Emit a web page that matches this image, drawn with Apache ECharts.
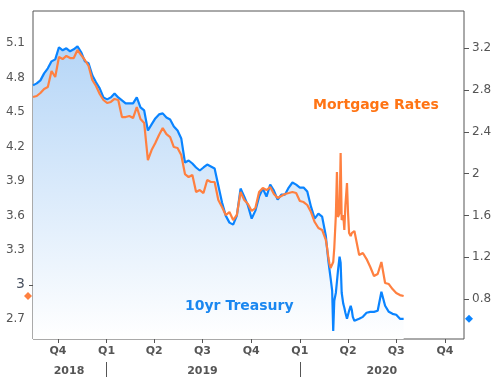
<!DOCTYPE html>
<html>
<head>
<meta charset="utf-8">
<script src="https://cdn.jsdelivr.net/npm/echarts@6/dist/echarts.min.js"></script>
<style>
  html, body { margin: 0; padding: 0; background: #fff; }
  #chart { width: 498px; height: 377px; }
</style>
</head>
<body>
<div id="chart"></div>
<script>
// weekly dates, denser around the March 2020 spike
var dates = [
  '2018-08-15','2018-08-22','2018-08-29','2018-09-05','2018-09-12','2018-09-19','2018-09-26','2018-10-03','2018-10-10','2018-10-17',
  '2018-10-24','2018-10-31','2018-11-07','2018-11-14','2018-11-21','2018-11-28','2018-12-05','2018-12-12','2018-12-19','2018-12-26',
  '2019-01-02','2019-01-09','2019-01-16','2019-01-23','2019-01-30','2019-02-06','2019-02-13','2019-02-20','2019-02-27','2019-03-06',
  '2019-03-13','2019-03-20','2019-03-27','2019-04-03','2019-04-10','2019-04-17','2019-04-24','2019-05-01','2019-05-08','2019-05-15',
  '2019-05-22','2019-05-29','2019-06-05','2019-06-12','2019-06-19','2019-06-26','2019-07-03','2019-07-10','2019-07-17','2019-07-24',
  '2019-07-31','2019-08-07','2019-08-14','2019-08-21','2019-08-28','2019-09-04','2019-09-11','2019-09-18','2019-09-25','2019-10-02',
  '2019-10-09','2019-10-16','2019-10-23','2019-10-30','2019-11-06','2019-11-13','2019-11-20','2019-11-27','2019-12-04','2019-12-11',
  '2019-12-18','2019-12-25','2020-01-01','2020-01-08','2020-01-15','2020-01-22','2020-01-29','2020-02-05','2020-02-12',
  '2020-02-19','2020-02-21','2020-02-24','2020-02-26','2020-02-28','2020-03-02','2020-03-04','2020-03-06','2020-03-09','2020-03-11',
  '2020-03-13','2020-03-16','2020-03-18','2020-03-20','2020-03-23','2020-03-25','2020-03-27','2020-03-30','2020-04-01','2020-04-03',
  '2020-04-06','2020-04-08','2020-04-10','2020-04-13','2020-04-15',
  '2020-04-22','2020-04-29','2020-05-06','2020-05-13','2020-05-20','2020-05-27','2020-06-03','2020-06-10','2020-06-17','2020-06-24',
  '2020-07-01','2020-07-08','2020-07-15'
];

var mortgageRates = [
  4.633, 4.642, 4.668, 4.703, 4.720, 4.859, 4.807, 4.981, 4.963, 4.990,
  4.972, 4.972, 5.042, 4.998, 4.955, 4.903, 4.781, 4.729, 4.659, 4.607,
  4.581, 4.590, 4.616, 4.607, 4.459, 4.459, 4.468, 4.450, 4.546, 4.442,
  4.407, 4.085, 4.172, 4.233, 4.303, 4.363, 4.311, 4.285, 4.198, 4.190,
  4.129, 3.963, 3.937, 3.955, 3.807, 3.824, 3.798, 3.911, 3.894, 3.894,
  3.737, 3.677, 3.607, 3.633, 3.563, 3.607, 3.807, 3.737, 3.703, 3.642,
  3.668, 3.807, 3.842, 3.824, 3.850, 3.790, 3.755, 3.772, 3.790, 3.798,
  3.807, 3.798, 3.729, 3.720, 3.694, 3.633, 3.546, 3.494, 3.477,
  3.390, 3.337, 3.233, 3.181, 3.146, 3.129, 3.198, 3.320, 3.607, 3.981,
  3.590, 3.624, 4.146, 3.563, 3.607, 3.477, 3.694, 3.885, 3.624, 3.450,
  3.424, 3.450, 3.433, 3.468, 3.477,
  3.259, 3.277, 3.224, 3.155, 3.077, 3.094, 3.198, 3.016, 3.007, 2.963,
  2.929, 2.911, 2.903
];

var treasury10yr = [
  2.845, 2.864, 2.893, 2.960, 3.008, 3.075, 3.094, 3.210, 3.181, 3.200,
  3.171, 3.190, 3.219, 3.162, 3.075, 3.056, 2.941, 2.874, 2.816, 2.730,
  2.711, 2.730, 2.768, 2.730, 2.701, 2.672, 2.672, 2.672, 2.730, 2.634,
  2.605, 2.413, 2.471, 2.529, 2.567, 2.577, 2.538, 2.519, 2.452, 2.413,
  2.337, 2.107, 2.126, 2.097, 2.059, 2.030, 2.059, 2.087, 2.068, 2.049,
  1.886, 1.723, 1.598, 1.531, 1.512, 1.598, 1.857, 1.780, 1.694, 1.569,
  1.646, 1.780, 1.857, 1.780, 1.895, 1.838, 1.752, 1.800, 1.800, 1.867,
  1.915, 1.895, 1.867, 1.867, 1.828, 1.684, 1.569, 1.617, 1.589,
  1.406, 1.301, 1.157, 1.080, 1.003, 0.879, 0.495, 0.783, 0.860, 0.965,
  1.071, 1.205, 1.147, 0.860, 0.754, 0.716, 0.668, 0.610, 0.591, 0.687,
  0.735, 0.697, 0.629, 0.591, 0.581,
  0.610, 0.629, 0.668, 0.677, 0.677, 0.687, 0.869, 0.735, 0.677, 0.658,
  0.649, 0.610, 0.610
];

var quarterTicks = ['2018-10-01','2019-01-01','2019-04-01','2019-07-01','2019-10-01','2020-01-01','2020-04-01','2020-07-01','2020-10-01'];
var yearStarts = ['2019-01-01','2020-01-01'];
var yearLabelDates = ['2018-10-22','2019-07-01','2020-06-04'];
var mortgageTicks = [2.7, 3, 3.3, 3.6, 3.9, 4.2, 4.5, 4.8, 5.1];
var mortgageMarkedTick = [3];
var treasuryTicks = [0.8, 1.2, 1.6, 2, 2.4, 2.8, 3.2];

var xMin = '2018-08-15', xMax = '2020-11-06';
var font = 'DejaVu Sans, Verdana, sans-serif';
var axisGrey = '#555';
var blue = '#0a84ff', orange = '#ff8040';

// dates as timestamps on a plain value axis
function ts(d) { return +echarts.time.parse(d); }
function tsList(list) { return list.map(ts); }

var chart = echarts.init(document.getElementById('chart'), null, {renderer: 'canvas'});

function pairs(vals) {
  return dates.map(function (d, i) { return [ts(d), vals[i]]; });
}

var option = {
  animation: false,
  grid: {
    left: 33, right: 34, top: 11, bottom: 38,
    show: true, borderColor: axisGrey, borderWidth: 1
  },
  xAxis: [{
    type: 'value', min: ts(xMin), max: ts(xMax),
    axisLine: {show: false}, splitLine: {show: false},
    axisTick: {show: true, customValues: tsList(quarterTicks), length: 4, lineStyle: {color: axisGrey}},
    axisLabel: {
      customValues: tsList(quarterTicks), color: axisGrey, fontSize: 11, fontWeight: 'bold', fontFamily: font, margin: 7,
      formatter: function (v) { return 'Q' + (Math.floor(new Date(v).getMonth() / 3) + 1); }
    }
  }, {
    type: 'value', min: ts(xMin), max: ts(xMax), position: 'bottom', offset: 23,
    axisLine: {show: false}, splitLine: {show: false},
    axisTick: {show: true, customValues: tsList(yearStarts), length: 15, lineStyle: {color: axisGrey}},
    axisLabel: {
      customValues: tsList(yearLabelDates), color: axisGrey, fontSize: 11, fontWeight: 'bold', fontFamily: font, margin: 4,
      formatter: function (v) { return String(new Date(v).getFullYear()); }
    }
  }],
  yAxis: [{
    type: 'value', position: 'left', min: 2.529, max: 5.381,
    splitLine: {show: false}, axisLine: {show: false},
    axisTick: {show: true, customValues: mortgageMarkedTick, length: 4, lineStyle: {color: axisGrey}},
    axisLabel: {
      customValues: mortgageTicks, color: axisGrey, fontSize: 12, fontFamily: font, margin: 8,
      rich: {big: {fontSize: 14, color: '#4a5260', fontFamily: font}},
      formatter: function (v) { return v === 3 ? '{big|3}' : String(v); }
    }
  }, {
    type: 'value', position: 'right', min: 0.417, max: 3.557,
    splitLine: {show: false}, axisLine: {show: false},
    axisTick: {show: true, customValues: treasuryTicks, length: 5, lineStyle: {color: axisGrey}},
    axisLabel: {customValues: treasuryTicks, color: axisGrey, fontSize: 12, fontFamily: font, margin: 8}
  }],
  series: [{
    name: '10yr Treasury', type: 'line', xAxisIndex: 0, yAxisIndex: 1,
    data: pairs(treasury10yr), symbol: 'none',
    lineStyle: {color: blue, width: 2.2},
    areaStyle: {
      opacity: 1,
      color: new echarts.graphic.LinearGradient(0, 0, 0, 1, [
        {offset: 0, color: '#b6d6f7'},
        {offset: 1, color: '#ffffff'}
      ])
    }
  }, {
    name: 'Mortgage Rates', type: 'line', xAxisIndex: 0, yAxisIndex: 0,
    data: pairs(mortgageRates), symbol: 'none',
    lineStyle: {color: orange, width: 2.2}
  }]
};

chart.setOption(option);

// end-value diamonds just outside the plot edges, placed through the axis scales
function diamond(cx, cy, color) {
  var r = 4;
  return {
    type: 'polygon', silent: true, z: 100,
    shape: {points: [[cx, cy - r], [cx + r, cy], [cx, cy + r], [cx - r, cy]]},
    style: {fill: color}
  };
}
var lastMortgage = mortgageRates[mortgageRates.length - 1];
var lastTreasury = treasury10yr[treasury10yr.length - 1];
var leftEdge = chart.convertToPixel({xAxisIndex: 0}, ts(xMin));
var rightEdge = chart.convertToPixel({xAxisIndex: 0}, ts(xMax));
var yM = chart.convertToPixel({yAxisIndex: 0}, lastMortgage);
var yT = chart.convertToPixel({yAxisIndex: 1}, lastTreasury);

chart.setOption({
  graphic: [
    diamond(leftEdge - 5, yM, orange),
    diamond(rightEdge + 5, yT, blue),
    {
      type: 'text', left: 313, top: 98, silent: true, z: 100,
      style: {text: 'Mortgage Rates', fill: '#ff7414', font: 'bold 14px ' + font}
    },
    {
      type: 'text', left: 185, top: 299, silent: true, z: 100,
      style: {text: '10yr Treasury', fill: '#1a87f0', font: 'bold 14px ' + font}
    }
  ]
});
</script>
</body>
</html>
